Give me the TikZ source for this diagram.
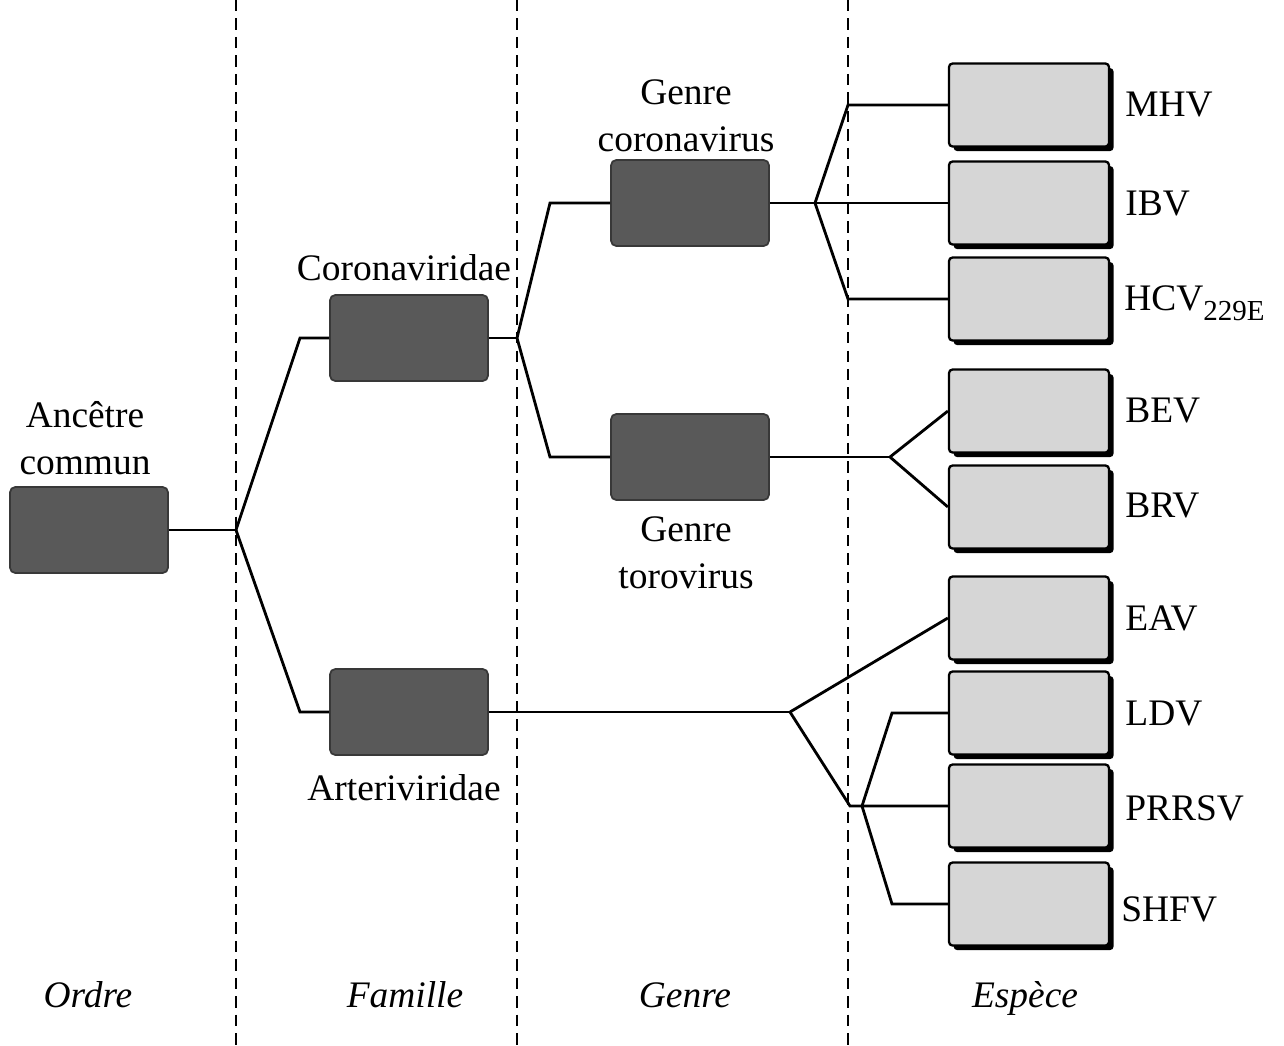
\documentclass[tikz,border=0pt]{standalone}
\usepackage{fontspec}
\setmainfont{Liberation Serif}
\usetikzlibrary{shadows}

\begin{document}
\begin{tikzpicture}[x=0.02cm, y=-0.02cm, line width=1.6pt,
  lbl/.style={font=\fontsize{21.3}{26.5}\selectfont, align=center},
  rank/.style={font=\fontsize{21.3}{26.5}\selectfont\itshape, anchor=base},
  darkbox/.style={fill=black!65, draw=black!78, line width=1pt, rounded corners=3pt,
    minimum width=3.16cm, minimum height=1.72cm, inner sep=0pt},
  lightbox/.style={draw=black, line width=1.3pt, fill=black!16, rounded corners=2pt,
    minimum width=3.2cm, minimum height=1.66cm, inner sep=0pt,
    drop shadow={fill=black, opacity=1, shadow xshift=2.6pt, shadow yshift=-2.6pt}},
  sep/.style={line width=1.6pt, dash pattern=on 6.5pt off 4pt}]
  \useasboundingbox (0,0) rectangle (1284,1045);

  % separators between ranks
  \foreach \xs in {236,517,848}
    \draw[sep] (\xs,0) -- (\xs,1045);

  % boxes
  \node[darkbox] (anc) at (89,530) {};
  \node[darkbox] (cor) at (409,338) {};
  \node[darkbox] (art) at (409,712) {};
  \node[darkbox] (gcor) at (690,203) {};
  \node[darkbox] (gtor) at (690,457) {};

  \node[lightbox] (mhv) at (1029,105) {};
  \node[lightbox] (ibv) at (1029,203) {};
  \node[lightbox] (hcv) at (1029,299) {};
  \node[lightbox] (bev) at (1029,411) {};
  \node[lightbox] (brv) at (1029,507) {};
  \node[lightbox] (eav) at (1029,618) {};
  \node[lightbox] (ldv) at (1029,713) {};
  \node[lightbox] (prrsv) at (1029,806) {};
  \node[lightbox] (shfv) at (1029,904) {};

  % labels
  \node[lbl] (tanc) at (85,438) {Ancêtre\\commun};
  \node[lbl] (tcor) at (404,268) {Coronaviridae};
  \node[lbl] (tart) at (404,788) {Arteriviridae};
  \node[lbl] (tgcor) at (686,116) {Genre\\coronavirus};
  \node[lbl] (tgtor) at (686,553) {Genre\\torovirus};

  \node[lbl, anchor=west, inner sep=0pt] at (1124,105) {MHV};
  \node[lbl, anchor=west, inner sep=0pt] at (1124,204) {IBV};
  \node[lbl, anchor=west, inner sep=0pt] at (1123,303) {HCV\raisebox{-5.5pt}{\fontsize{16.5}{18}\selectfont 229E}};
  \node[lbl, anchor=west, inner sep=0pt] at (1124,411) {BEV};
  \node[lbl, anchor=west, inner sep=0pt] at (1124,506) {BRV};
  \node[lbl, anchor=west, inner sep=0pt] at (1124,618) {EAV};
  \node[lbl, anchor=west, inner sep=0pt] at (1124,714) {LDV};
  \node[lbl, anchor=west, inner sep=0pt] at (1124,808) {PRRSV};
  \node[lbl, anchor=west, inner sep=0pt] at (1120,909) {SHFV};

  \node[rank] (ordre) at (88,1007) {Ordre};
  \node[rank] (famille) at (405,1007) {Famille};
  \node[rank] (genre) at (685,1007) {Genre};
  \node[rank] (espece) at (1025,1007) {Espèce};

  % branch points
  \coordinate (b0) at (236,530);
  \coordinate (b1) at (517,338);
  \coordinate (b2) at (815,203);
  \coordinate (b3) at (890,457);
  \coordinate (b4) at (790,712);
  \coordinate (b5) at (862,806);

  % connectors
  \draw (anc) -- (b0);
  \draw (b0) -- (300,338) -- (cor.west);
  \draw (b0) -- (300,712) -- (art.west);
  \draw (cor) -- (b1);
  \draw (b1) -- (550,203) -- (gcor.west);
  \draw (b1) -- (550,457) -- (gtor.west);
  \draw (gcor.east) -- (b2);
  \draw (b2) -- (848,105) -- (mhv.west);
  \draw (b2) -- (ibv.west);
  \draw (b2) -- (848,299) -- (hcv.west);
  \draw (gtor.east) -- (b3);
  \draw (b3) -- (bev.west);
  \draw (b3) -- (brv.west);
  \draw (art.east) -- (b4);
  \draw (b4) -- (eav.west);
  \draw (b4) -- (850,806) -- (prrsv.west);
  \draw (b5) -- (892,713) -- (ldv.west);
  \draw (b5) -- (892,904) -- (shfv.west);
\end{tikzpicture}
\end{document}
